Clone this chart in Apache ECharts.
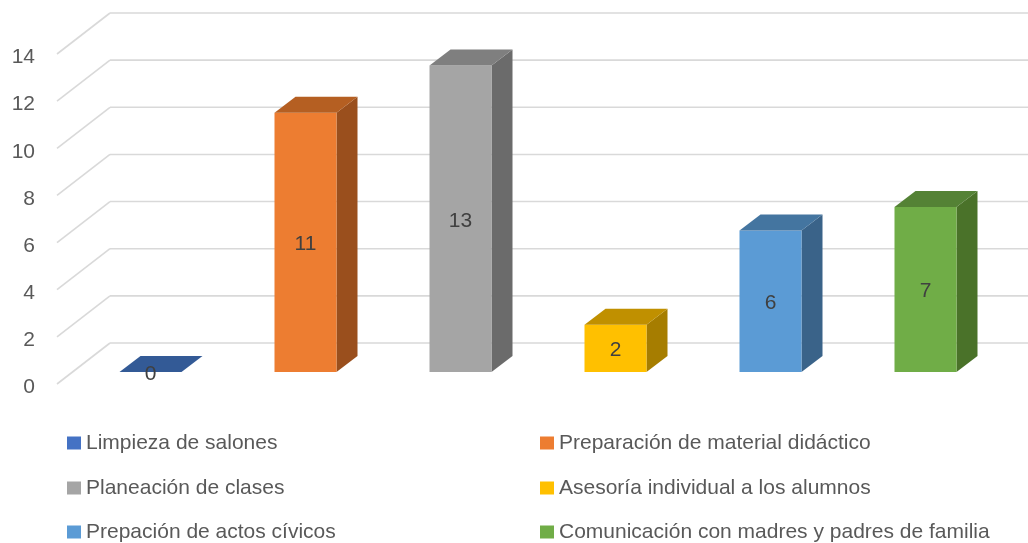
<!DOCTYPE html>
<html>
<head>
<meta charset="utf-8">
<script src="https://cdn.jsdelivr.net/npm/echarts@6/dist/echarts.min.js"></script>
<style>
  html, body { margin: 0; padding: 0; background: #ffffff; }
  #chart { width: 1028px; height: 543px; }
</style>
</head>
<body>
<div id="chart"></div>
<script>
// Activity categories and their counts
const categories = [
  'Limpieza de salones',
  'Preparación de material didáctico',
  'Planeación de clases',
  'Asesoría individual a los alumnos',
  'Prepación de actos cívicos',
  'Comunicación con madres y padres de familia'
];
const values = [0, 11, 13, 2, 6, 7];
const yTicks = [0, 2, 4, 6, 8, 10, 12, 14];

// Face colours for each column: front, top, right side
const frontColors = ['#4472C4', '#ED7D31', '#A5A5A5', '#FFC000', '#5B9BD5', '#70AD47'];
const topColors   = ['#335A96', '#B55F22', '#7F7F7F', '#C09000', '#4475A0', '#548235'];
const sideColors  = ['#2C4D85', '#9A4F1D', '#6B6B6B', '#A67D00', '#3A6389', '#4A7229'];

// Oblique projection of the depth axis (pixels)
const WALL_DX = 53, WALL_DY = -41;   // front plane -> back wall
const BAR_OX = 16, BAR_OY = -12;     // front plane -> column front face
const BAR_DX = 21, BAR_DY = -16;     // column depth
const BAR_RATIO = 0.4;               // column width as share of the band

const FONT = '"Liberation Sans", Arial, sans-serif';
const TEXT_GREY = '#595959';

function renderGridLine(params, api) {
  const cs = params.coordSys;
  const y = api.coord([0, api.value(1)])[1];
  const xb = cs.x + WALL_DX, yb = y + WALL_DY;
  const style = { stroke: '#D9D9D9', lineWidth: 1.6 };
  return {
    type: 'group',
    children: [
      { type: 'line', shape: { x1: cs.x, y1: y, x2: xb, y2: yb }, style },
      { type: 'line', shape: { x1: xb, y1: yb, x2: api.getWidth(), y2: yb }, style }
    ]
  };
}

function makeColumnRenderer(idx) {
  return function (params, api) {
    const v = api.value(1);
    const base = api.coord([api.value(0), 0]);
    const topPt = api.coord([api.value(0), v]);
    const w = api.size([1, 0])[0] * BAR_RATIO;
    const x0 = base[0] + BAR_OX - w / 2;
    const x1 = x0 + w;
    const yb = base[1] + BAR_OY;
    const yt = topPt[1] + BAR_OY;
    const label = String(v);
    return {
      type: 'group',
      children: [
        {
          type: 'polygon',
          shape: { points: [[x1, yb], [x1, yt], [x1 + BAR_DX, yt + BAR_DY], [x1 + BAR_DX, yb + BAR_DY]] },
          style: { fill: sideColors[idx] }
        },
        {
          type: 'rect',
          shape: { x: x0, y: yt, width: w, height: yb - yt },
          style: { fill: frontColors[idx] }
        },
        {
          type: 'polygon',
          shape: { points: [[x0, yt], [x1, yt], [x1 + BAR_DX, yt + BAR_DY], [x0 + BAR_DX, yt + BAR_DY]] },
          style: { fill: topColors[idx] }
        },
        {
          type: 'text',
          x: x0 + w / 2,
          y: (yt + yb) / 2 + 2,
          style: {
            text: label,
            fill: '#404040',
            fontSize: 21,
            fontFamily: FONT,
            align: 'center',
            verticalAlign: 'middle',
            textAlign: 'center',
            textVerticalAlign: 'middle'
          }
        }
      ]
    };
  };
}

const columnSeries = categories.map((name, i) => ({
  type: 'custom',
  name: name,
  z: 3,
  itemStyle: { color: frontColors[i] },
  data: [[i, values[i]]],
  encode: { x: 0, y: 1 },
  renderItem: makeColumnRenderer(i)
}));

// Legend: two columns, three rows (entries in category order, row by row)
const legendColumnsLeft = [67, 540];
const legendRowsTop = [432.5, 477.5, 521.5];
const legends = categories.map((name, i) => ({
  left: legendColumnsLeft[i % 2],
  top: legendRowsTop[Math.floor(i / 2)],
  padding: 0,
  itemWidth: 14,
  itemHeight: 13,
  icon: 'rect',
  data: [name],
  textStyle: { color: TEXT_GREY, fontSize: 21, fontFamily: FONT }
}));

const chart = echarts.init(document.getElementById('chart'), null, { renderer: 'canvas' });
chart.setOption({
  animation: false,
  backgroundColor: '#ffffff',
  grid: { left: 57, right: 41, top: 54, bottom: 159 },
  xAxis: {
    type: 'category',
    data: categories,
    boundaryGap: true,
    axisLine: { show: false },
    axisTick: { show: false },
    axisLabel: { show: false },
    splitLine: { show: false }
  },
  yAxis: {
    type: 'value',
    min: 0,
    max: 14,
    interval: 2,
    axisLine: { show: false },
    axisTick: { show: false },
    splitLine: { show: false },
    axisLabel: {
      margin: 22,
      formatter: '{t|{value}}',
      rich: {
        t: { color: TEXT_GREY, fontSize: 21, fontFamily: FONT, lineHeight: 21, padding: [7, 0, 0, 0] }
      }
    }
  },
  legend: legends,
  series: [
    {
      type: 'custom',
      name: 'gridlines',
      silent: true,
      z: 1,
      data: yTicks.map(t => [0, t]),
      encode: { x: 0, y: 1 },
      renderItem: renderGridLine
    }
  ].concat(columnSeries)
});
</script>
</body>
</html>
